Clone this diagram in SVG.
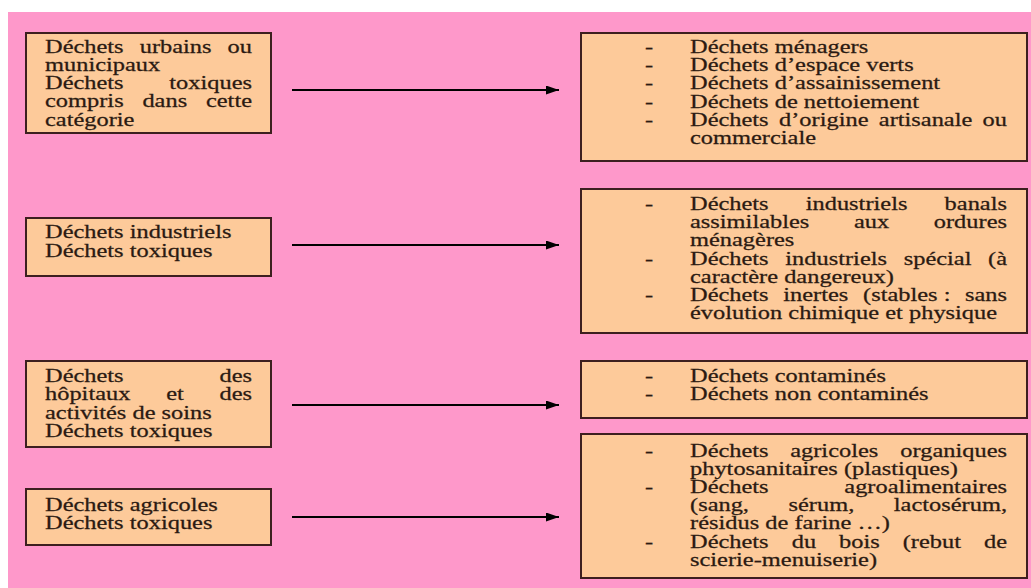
<svg xmlns="http://www.w3.org/2000/svg" width="1031" height="588" viewBox="0 0 1031 588">
<style>
.bg{fill:#fe98ca}
.box{fill:#fdca9a;stroke:#3d1f1f;stroke-width:2}
.t{font-family:"Liberation Serif","Times New Roman",serif;font-size:17.8px;fill:#2b1a12;stroke:#2b1a12;stroke-width:0.25}
.e{text-anchor:end}
.ar{stroke:#000;stroke-width:1.8;fill:none}
</style>
<defs>
<marker id="ah" viewBox="0 0 13 9" refX="13" refY="4.5" markerWidth="13" markerHeight="9" markerUnits="userSpaceOnUse" orient="auto">
<path d="M0,0 L13,4.5 L0,9 Z" fill="#000"/>
</marker>
</defs>
<rect x="0" y="0" width="1031" height="588" fill="#ffffff"/>
<rect class="bg" x="8" y="12" width="1023" height="576"/>

<g id="left1">
<rect class="box" x="26" y="33" width="245" height="100"/>
<text class="t" transform="translate(45 52.5) scale(1.372 1)">Déchets</text>
<text class="t" transform="translate(139.7 52.5) scale(1.372 1)">urbains</text>
<text class="t e" transform="translate(252 52.5) scale(1.372 1)">ou</text>
<text class="t" transform="translate(45 70.8) scale(1.372 1)">municipaux</text>
<text class="t" transform="translate(45 89) scale(1.372 1)">Déchets</text>
<text class="t e" transform="translate(252 89) scale(1.372 1)">toxiques</text>
<text class="t" transform="translate(45 107.3) scale(1.372 1)">compris</text>
<text class="t" transform="translate(142.4 107.3) scale(1.372 1)">dans</text>
<text class="t e" transform="translate(252 107.3) scale(1.372 1)">cette</text>
<text class="t" transform="translate(45 125.5) scale(1.372 1)">catégorie</text>
</g>

<g id="left2">
<rect class="box" x="26" y="218" width="245" height="58"/>
<text class="t" transform="translate(45 238) scale(1.372 1)">Déchets industriels</text>
<text class="t" transform="translate(45 256.5) scale(1.372 1)">Déchets toxiques</text>
</g>

<g id="left3">
<rect class="box" x="26" y="361" width="245" height="86"/>
<text class="t" transform="translate(45 382) scale(1.372 1)">Déchets</text>
<text class="t e" transform="translate(252 382) scale(1.372 1)">des</text>
<text class="t" transform="translate(45 400.3) scale(1.372 1)">hôpitaux</text>
<text class="t" transform="translate(166.2 400.3) scale(1.372 1)">et</text>
<text class="t e" transform="translate(252 400.3) scale(1.372 1)">des</text>
<text class="t" transform="translate(45 418.5) scale(1.372 1)">activités de soins</text>
<text class="t" transform="translate(45 436.8) scale(1.372 1)">Déchets toxiques</text>
</g>

<g id="left4">
<rect class="box" x="26" y="489" width="245" height="56"/>
<text class="t" transform="translate(45 511) scale(1.372 1)">Déchets agricoles</text>
<text class="t" transform="translate(45 529.3) scale(1.372 1)">Déchets toxiques</text>
</g>

<g id="right1">
<rect class="box" x="581" y="33" width="446" height="128"/>
<text class="t" transform="translate(645 53) scale(1.372 1)">-</text>
<text class="t" transform="translate(690 53) scale(1.372 1)">Déchets ménagers</text>
<text class="t" transform="translate(645 71.2) scale(1.372 1)">-</text>
<text class="t" transform="translate(690 71.2) scale(1.372 1)">Déchets d’espace verts</text>
<text class="t" transform="translate(645 89.4) scale(1.372 1)">-</text>
<text class="t" transform="translate(690 89.4) scale(1.372 1)">Déchets d’assainissement</text>
<text class="t" transform="translate(645 107.6) scale(1.372 1)">-</text>
<text class="t" transform="translate(690 107.6) scale(1.372 1)">Déchets de nettoiement</text>
<text class="t" transform="translate(645 125.8) scale(1.372 1)">-</text>
<text class="t" transform="translate(690 125.8) scale(1.372 1)">Déchets</text>
<text class="t" transform="translate(779 125.8) scale(1.372 1)">d’origine</text>
<text class="t" transform="translate(878.8 125.8) scale(1.372 1)">artisanale</text>
<text class="t e" transform="translate(1007 125.8) scale(1.372 1)">ou</text>
<text class="t" transform="translate(690 144) scale(1.372 1)">commerciale</text>
</g>

<g id="right2">
<rect class="box" x="581" y="189" width="446" height="144"/>
<text class="t" transform="translate(645 210) scale(1.372 1)">-</text>
<text class="t" transform="translate(690 210) scale(1.372 1)">Déchets</text>
<text class="t" transform="translate(805.7 210) scale(1.372 1)">industriels</text>
<text class="t e" transform="translate(1007 210) scale(1.372 1)">banals</text>
<text class="t" transform="translate(690 228.2) scale(1.372 1)">assimilables</text>
<text class="t" transform="translate(853.9 228.2) scale(1.372 1)">aux</text>
<text class="t e" transform="translate(1007 228.2) scale(1.372 1)">ordures</text>
<text class="t" transform="translate(690 246.4) scale(1.372 1)">ménagères</text>
<text class="t" transform="translate(645 264.6) scale(1.372 1)">-</text>
<text class="t" transform="translate(690 264.6) scale(1.372 1)">Déchets</text>
<text class="t" transform="translate(785.3 264.6) scale(1.372 1)">industriels</text>
<text class="t" transform="translate(903.7 264.6) scale(1.372 1)">spécial</text>
<text class="t e" transform="translate(1007 264.6) scale(1.372 1)">(à</text>
<text class="t" transform="translate(690 282.8) scale(1.372 1)">caractère dangereux)</text>
<text class="t" transform="translate(645 301) scale(1.372 1)">-</text>
<text class="t" transform="translate(690 301) scale(1.372 1)">Déchets</text>
<text class="t" transform="translate(783.3 301) scale(1.372 1)">inertes</text>
<text class="t" transform="translate(863 301) scale(1.372 1)">(stables :</text>
<text class="t e" transform="translate(1007 301) scale(1.372 1)">sans</text>
<text class="t" transform="translate(690 319.2) scale(1.372 1)">évolution chimique et physique</text>
</g>

<g id="right3">
<rect class="box" x="581" y="361" width="446" height="57"/>
<text class="t" transform="translate(645 382) scale(1.372 1)">-</text>
<text class="t" transform="translate(690 382) scale(1.372 1)">Déchets contaminés</text>
<text class="t" transform="translate(645 400.3) scale(1.372 1)">-</text>
<text class="t" transform="translate(690 400.3) scale(1.372 1)">Déchets non contaminés</text>
</g>

<g id="right4">
<rect class="box" x="581" y="434" width="446" height="144"/>
<text class="t" transform="translate(645 456.5) scale(1.372 1)">-</text>
<text class="t" transform="translate(690 456.5) scale(1.372 1)">Déchets</text>
<text class="t" transform="translate(790.2 456.5) scale(1.372 1)">agricoles</text>
<text class="t e" transform="translate(1007 456.5) scale(1.372 1)">organiques</text>
<text class="t" transform="translate(690 474.7) scale(1.372 1)">phytosanitaires (plastiques)</text>
<text class="t" transform="translate(645 492.9) scale(1.372 1)">-</text>
<text class="t" transform="translate(690 492.9) scale(1.372 1)">Déchets</text>
<text class="t e" transform="translate(1007 492.9) scale(1.372 1)">agroalimentaires</text>
<text class="t" transform="translate(690 511.1) scale(1.372 1)">(sang,</text>
<text class="t" transform="translate(788.5 511.1) scale(1.372 1)">sérum,</text>
<text class="t e" transform="translate(1007 511.1) scale(1.372 1)">lactosérum,</text>
<text class="t" transform="translate(690 529.3) scale(1.372 1)">résidus de farine …)</text>
<text class="t" transform="translate(645 547.5) scale(1.372 1)">-</text>
<text class="t" transform="translate(690 547.5) scale(1.372 1)">Déchets</text>
<text class="t" transform="translate(791.7 547.5) scale(1.372 1)">du</text>
<text class="t" transform="translate(839 547.5) scale(1.372 1)">bois</text>
<text class="t" transform="translate(902.7 547.5) scale(1.372 1)">(rebut</text>
<text class="t e" transform="translate(1007 547.5) scale(1.372 1)">de</text>
<text class="t" transform="translate(690 565.7) scale(1.372 1)">scierie-menuiserie)</text>
</g>

<g id="connectors">
<line class="ar" x1="292" y1="90" x2="559" y2="90" marker-end="url(#ah)"/>
<line class="ar" x1="292" y1="245" x2="559" y2="245" marker-end="url(#ah)"/>
<line class="ar" x1="292" y1="405" x2="559" y2="405" marker-end="url(#ah)"/>
<line class="ar" x1="292" y1="517" x2="559" y2="517" marker-end="url(#ah)"/>
</g>
</svg>
